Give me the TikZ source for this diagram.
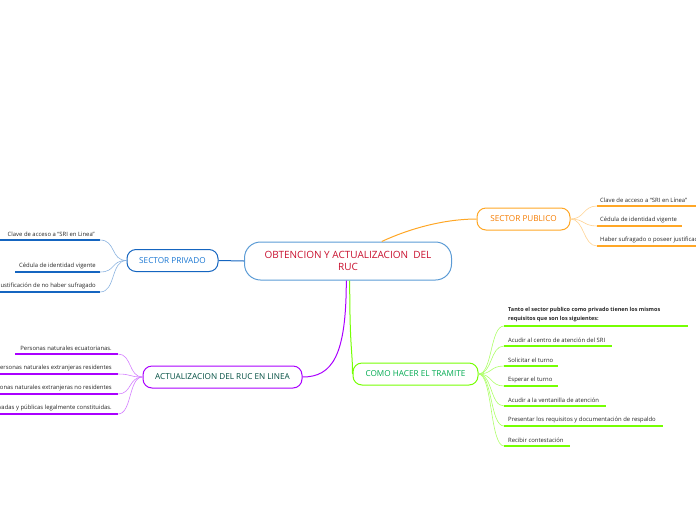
\documentclass[tikz,border=0pt]{standalone}
\usepackage{fontspec}
\setmainfont{Open Sans}
\definecolor{rucline}{RGB}{91,155,213}
\definecolor{ructext}{RGB}{200,16,46}
\definecolor{pvblue}{RGB}{21,101,192}
\definecolor{pvtext}{RGB}{25,118,210}
\definecolor{pborange}{RGB}{255,167,38}
\definecolor{pbtext}{RGB}{245,124,0}
\definecolor{trgreen}{RGB}{118,255,3}
\definecolor{trtext}{RGB}{0,170,80}
\definecolor{lnpurple}{RGB}{170,0,255}
\definecolor{lntext}{RGB}{0,77,64}
\tikzset{
  topic/.style={draw, rounded corners=9pt, line width=1pt, minimum height=22pt,
    inner sep=0pt, font=\fontsize{8.2}{9}\selectfont},
  leaf/.style={inner sep=1pt, font=\fontsize{5.9}{7}\selectfont, text=black!85},
  uline/.style={line width=1.3pt},
  twig/.style={line width=0.6pt}
}
\begin{document}
\begin{tikzpicture}[x=1pt,y=-1pt]
\useasboundingbox (0,0) rectangle (696,520);
\clip (0,0) rectangle (696,520);
% main topic:
\node[draw=rucline, line width=1pt, rounded corners=16pt, minimum width=207pt, minimum height=38pt,
  align=center, text=ructext, font=\fontsize{10}{12.5}\selectfont] (ruc) at (348,261)
  {OBTENCION Y ACTUALIZACION\ \ DEL\\RUC};
% branches:
\node[topic, draw=pvblue, text=pvtext, minimum width=91pt] (privado) at (172.5,260.5) {SECTOR PRIVADO};
\node[topic, draw=pborange, text=pbtext, minimum width=93pt] (publico) at (523.5,219) {SECTOR PUBLICO};
\node[topic, draw=trgreen, text=trtext, minimum width=125pt] (tramite) at (415.5,374) {COMO HACER EL TRAMITE};
\node[topic, draw=lnpurple, text=lntext, minimum width=159pt] (linea) at (222.5,377) {ACTUALIZACION DEL RUC EN LINEA};
\draw[pvblue, line width=1pt] (ruc.west) -- (privado.east);
\draw[pborange, line width=1pt] (ruc.30) .. controls +(30,-14) and +(-30,0) .. (publico.west);
\draw[trgreen, line width=1pt] (ruc.-85) .. controls +(0,70) and +(0,-25) .. (tramite.west);
\draw[lnpurple, line width=1pt] (ruc.-95) .. controls +(0,75) and +(30,0) .. (linea.east);
% sector privado:
\coordinate (pv1) at (100,240);
\coordinate (pv2) at (100,272);
\coordinate (pv3) at (100,292);
\draw[uline, pvblue] (0,240) -- (pv1);
\draw[uline, pvblue] (15,272) -- (pv2);
\draw[uline, pvblue] (0,292) -- (pv3);
\node[leaf, anchor=south east] (pvt1) at (96,238) {Clave de acceso a “SRI en Linea”};
\node[leaf, anchor=south east] (pvt2) at (97,270) {Cédula de identidad vigente};
\node[leaf, anchor=south east] (pvt3) at (97,290) {Justificación de no haber sufragado};
\draw[twig, pvblue!50] (privado.west) .. controls +(-16,0) and +(16,0) .. (pv1);
\draw[twig, pvblue!50] (privado.west) .. controls +(-16,0) and +(16,0) .. (pv2);
\draw[twig, pvblue!50] (privado.west) .. controls +(-16,0) and +(16,0) .. (pv3);
% sector publico:
\coordinate (pb1) at (597,206);
\coordinate (pb2) at (597,226);
\coordinate (pb3) at (597,246);
\draw[uline, pborange] (pb1) -- (696,206);
\draw[uline, pborange] (pb2) -- (682,226);
\draw[uline, pborange] (pb3) -- (696,246);
\node[leaf, anchor=south west] (pbt1) at (599,204) {Clave de acceso a “SRI en Línea”};
\node[leaf, anchor=south west] (pbt2) at (599,224) {Cédula de identidad vigente};
\node[leaf, anchor=south west] (pbt3) at (599,244) {Haber sufragado o poseer justificación};
\draw[twig, pborange!50] (publico.east) .. controls +(14,0) and +(-14,0) .. (pb1);
\draw[twig, pborange!50] (publico.east) .. controls +(14,0) and +(-14,0) .. (pb2);
\draw[twig, pborange!50] (publico.east) .. controls +(14,0) and +(-14,0) .. (pb3);
% como hacer el tramite:
\coordinate (tr1) at (504,326);
\coordinate (tr2) at (504,346);
\coordinate (tr3) at (504,366);
\coordinate (tr4) at (504,386);
\coordinate (tr5) at (504,406);
\coordinate (tr6) at (504,426);
\coordinate (tr7) at (504,446);
\draw[uline, trgreen] (tr1) -- (688,326);
\draw[uline, trgreen] (tr2) -- (612,346);
\draw[uline, trgreen] (tr3) -- (558,366);
\draw[uline, trgreen] (tr4) -- (558,386);
\draw[uline, trgreen] (tr5) -- (606,406);
\draw[uline, trgreen] (tr6) -- (663,426);
\draw[uline, trgreen] (tr7) -- (570,446);
\node[leaf, anchor=south west, align=left, font=\fontsize{5.5}{8.5}\selectfont\bfseries] (trt1) at (507,323)
  {Tanto el sector publico como privado tienen los mismos\\requisitos que son los siguientes:};
\node[leaf, anchor=south west] (trt2) at (507,344) {Acudir al centro de atención del SRI};
\node[leaf, anchor=south west] (trt3) at (507,364) {Solicitar el turno};
\node[leaf, anchor=south west] (trt4) at (507,384) {Esperar el turno};
\node[leaf, anchor=south west] (trt5) at (507,404) {Acudir a la ventanilla de atención};
\node[leaf, anchor=south west] (trt6) at (507,424) {Presentar los requisitos y documentación de respaldo};
\node[leaf, anchor=south west] (trt7) at (507,444) {Recibir contestación};
\draw[twig, trgreen!60] (tramite.east) .. controls +(14,0) and +(-14,0) .. (tr1);
\draw[twig, trgreen!60] (tramite.east) .. controls +(14,0) and +(-14,0) .. (tr2);
\draw[twig, trgreen!60] (tramite.east) .. controls +(14,0) and +(-14,0) .. (tr3);
\draw[twig, trgreen!60] (tramite.east) .. controls +(14,0) and +(-14,0) .. (tr4);
\draw[twig, trgreen!60] (tramite.east) .. controls +(14,0) and +(-14,0) .. (tr5);
\draw[twig, trgreen!60] (tramite.east) .. controls +(14,0) and +(-14,0) .. (tr6);
\draw[twig, trgreen!60] (tramite.east) .. controls +(14,0) and +(-14,0) .. (tr7);
% actualizacion del ruc en linea:
\coordinate (ln1) at (118,354);
\coordinate (ln2) at (118,374);
\coordinate (ln3) at (118,394);
\coordinate (ln4) at (118,414);
\draw[uline, lnpurple] (15,354) -- (ln1);
\draw[uline, lnpurple] (0,374) -- (ln2);
\draw[uline, lnpurple] (0,394) -- (ln3);
\draw[uline, lnpurple] (0,414) -- (ln4);
\node[leaf, anchor=south east] (lnt1) at (113,352) {Personas naturales ecuatorianas.};
\node[leaf, anchor=south east] (lnt2) at (113,372) {Personas naturales extranjeras residentes};
\node[leaf, anchor=south east] (lnt3) at (113,392) {Personas naturales extranjeras no residentes};
\node[leaf, anchor=south east] (lnt4) at (113,412) {Sociedades privadas y públicas legalmente constituidas.};
\draw[twig, lnpurple!50] (linea.west) .. controls +(-14,0) and +(14,0) .. (ln1);
\draw[twig, lnpurple!50] (linea.west) .. controls +(-14,0) and +(14,0) .. (ln2);
\draw[twig, lnpurple!50] (linea.west) .. controls +(-14,0) and +(14,0) .. (ln3);
\draw[twig, lnpurple!50] (linea.west) .. controls +(-14,0) and +(14,0) .. (ln4);
\end{tikzpicture}
\end{document}
